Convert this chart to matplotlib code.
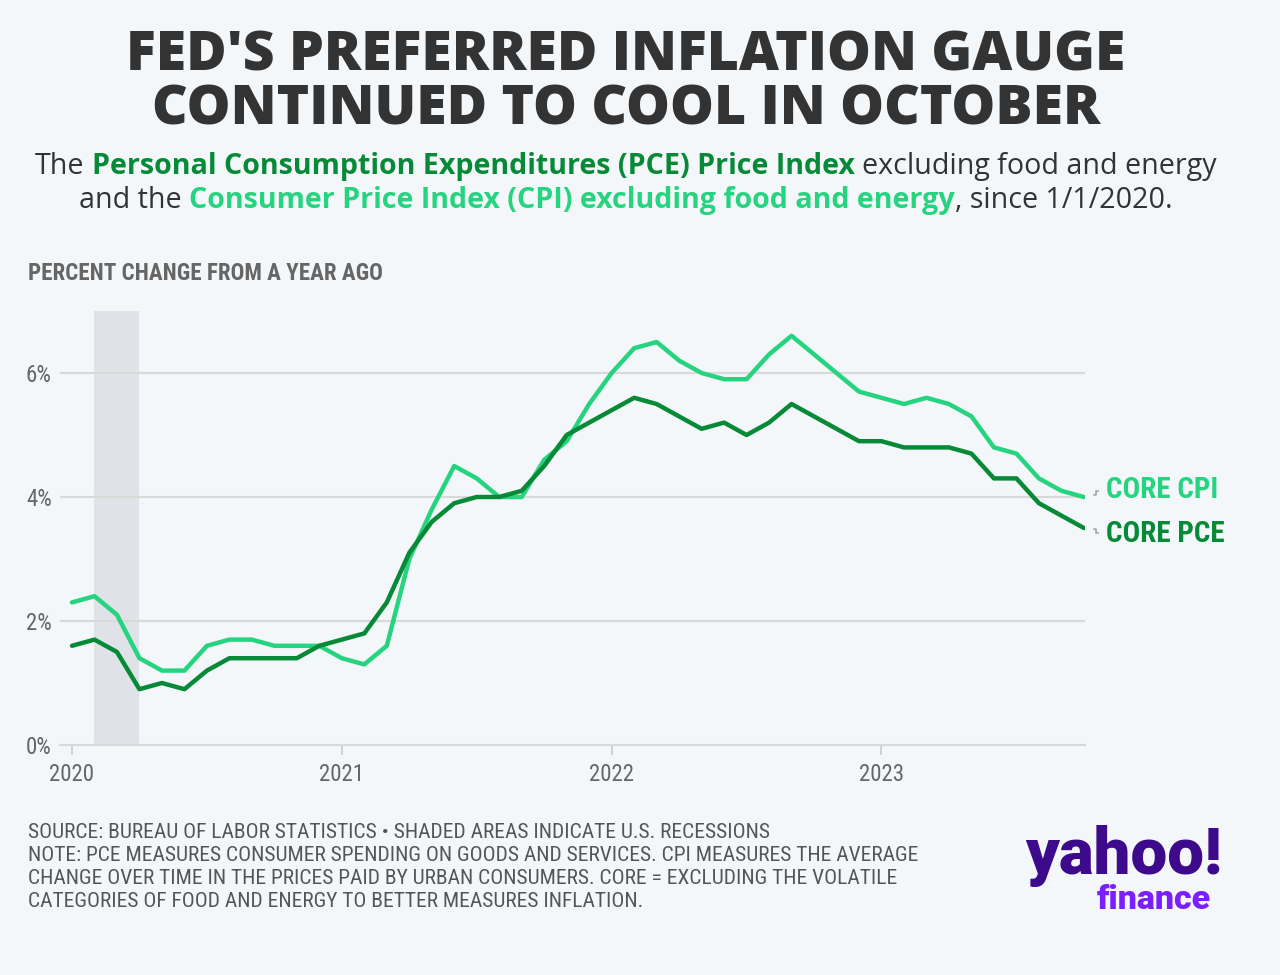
import matplotlib
matplotlib.use("Agg")
import matplotlib.pyplot as plt
import matplotlib.transforms as mtransforms
from matplotlib.lines import Line2D
from matplotlib import font_manager
import numpy as np

# monthly, Jan 2020 .. Oct 2023 (percent change from a year ago)
months = np.arange(46)
core_cpi = [2.3, 2.4, 2.1, 1.4, 1.2, 1.2, 1.6, 1.7, 1.7, 1.6, 1.6, 1.6,
            1.4, 1.3, 1.6, 3.0, 3.8, 4.5, 4.3, 4.0, 4.0, 4.6, 4.9, 5.5,
            6.0, 6.4, 6.5, 6.2, 6.0, 5.9, 5.9, 6.3, 6.6, 6.3, 6.0, 5.7,
            5.6, 5.5, 5.6, 5.5, 5.3, 4.8, 4.7, 4.3, 4.1, 4.0]
core_pce = [1.6, 1.7, 1.5, 0.9, 1.0, 0.9, 1.2, 1.4, 1.4, 1.4, 1.4, 1.6,
            1.7, 1.8, 2.3, 3.1, 3.6, 3.9, 4.0, 4.0, 4.1, 4.5, 5.0, 5.2,
            5.4, 5.6, 5.5, 5.3, 5.1, 5.2, 5.0, 5.2, 5.5, 5.3, 5.1, 4.9,
            4.9, 4.8, 4.8, 4.8, 4.7, 4.3, 4.3, 3.9, 3.7, 3.5]
year_ticks = [0, 12, 24, 36]
year_labels = ["2020", "2021", "2022", "2023"]
y_ticks = [0, 2, 4, 6]
recession = (1, 3)  # Feb 2020 - Apr 2020

BG = "#f4f7fa"
DARK = "#333333"
GREY = "#666666"
PCE_C = "#078a37"
CPI_C = "#26d47f"

installed = {f.name for f in font_manager.fontManager.ttflist}


def pick(names):
    for n in names:
        if n in installed:
            return n
    return "DejaVu Sans"


cond = pick(["Roboto Condensed", "Liberation Sans Narrow", "Open Sans Condensed", "Noto Sans"])
title_font = pick(["Open Sans", "Noto Sans"])
sub_font = pick(["Open Sans", "Noto Sans", "DejaVu Sans"])
logo_font = pick(["Roboto", "Lato", "Inter"])

W, H = 1280, 975
fig = plt.figure(figsize=(12.8, 9.75), dpi=100, facecolor=BG)
r = fig.canvas.get_renderer()


def width(t):
    return t.get_window_extent(r).width


def fit(t, target):
    t.set_fontsize(t.get_fontsize() * target / width(t))


# title
t1 = fig.text(626 / W, 1 - 56 / H, "FED'S PREFERRED INFLATION GAUGE", ha="center", va="center",
              family=title_font, fontweight="heavy", color=DARK, fontsize=40)
fit(t1, 998)
fig.text(626 / W, 1 - 110 / H, "CONTINUED TO COOL IN OCTOBER", ha="center", va="center",
         family=title_font, fontweight="heavy", color=DARK, fontsize=t1.get_fontsize())


def colored_line(y, parts, size):
    probe = [fig.text(0, 0, s, fontsize=size, family=sub_font) for s in ("n n", "nn")]
    space = width(probe[0]) - width(probe[1])
    for p in probe:
        p.remove()
    objs = []
    for s, color, weight in parts:
        gap = space if s.startswith(" ") else 0
        t = fig.text(0, 1 - y / H, s.strip(), color=color, fontsize=size, fontweight=weight,
                     family=sub_font, va="baseline")
        objs.append((t, gap))
    total = sum(width(t) + g for t, g in objs)
    x = 626 - total / 2
    for t, g in objs:
        x += g
        t.set_x(x / W)
        x += width(t)
    return total


sub_size = 19.5 * 1185 / 1120
colored_line(174, [("The", DARK, "normal"),
                   (" Personal Consumption Expenditures (PCE) Price Index", PCE_C, "bold"),
                   (" excluding food and energy", DARK, "normal")], sub_size)
colored_line(208, [("and the", DARK, "normal"),
                   (" Consumer Price Index (CPI) excluding food and energy", CPI_C, "bold"),
                   (", since 1/1/2020.", DARK, "normal")], sub_size)

t = fig.text(28 / W, 1 - 273 / H, "PERCENT CHANGE FROM A YEAR AGO", ha="left", va="center",
             family=cond, fontweight="bold", color=GREY, fontsize=16)
fit(t, 354)

# chart
ax = fig.add_axes([60 / W, 1 - 745 / H, (1085 - 60) / W, (745 - 311) / H])
ax.set_facecolor(BG)
ax.axvspan(recession[0], recession[1], color="#dfe3e7", zorder=0, lw=0)
for v in y_ticks[1:]:
    ax.axhline(v, color="#d9d9d9", lw=1.6, zorder=0.5)
ax.plot(months, core_cpi, color=CPI_C, lw=3.2, solid_joinstyle="round", solid_capstyle="round", zorder=3)
ax.plot(months, core_pce, color=PCE_C, lw=3.2, solid_joinstyle="round", solid_capstyle="round", zorder=4)

ax.set_xlim(-12 / 22.5, months[-1] + 0.05)
ax.set_ylim(0, 7)
for s in ("top", "right", "left"):
    ax.spines[s].set_visible(False)
ax.spines["bottom"].set_color("#d9d9d9")
ax.spines["bottom"].set_linewidth(1.6)
ax.set_yticks(y_ticks)
ax.set_yticklabels([f"{v}%" for v in y_ticks])
ax.set_xticks(year_ticks)
ax.set_xticklabels(year_labels)
ax.tick_params(axis="y", length=0, pad=6, labelsize=16.5, labelcolor=GREY)
ax.tick_params(axis="x", length=7, width=1.4, color="#d0d0d0", pad=6, labelsize=16.5, labelcolor=GREY)
for lab in ax.get_xticklabels() + ax.get_yticklabels():
    lab.set_family(cond)

# end labels with small step connectors
for series, name, color, dy in ((core_cpi, "CORE CPI", CPI_C, 5), (core_pce, "CORE PCE", PCE_C, -4)):
    lab = ax.annotate(name, xy=(months[-1], series[-1]), xytext=(16, dy), textcoords="offset points",
                      ha="left", va="center", family=cond, fontweight="bold", color=color,
                      fontsize=21, annotation_clip=False)
    px, py = ax.transData.transform((months[-1], series[-1]))
    s = 1 if dy > 0 else -1
    xs = np.array([7.0, 8.5, 8.5, 10.0]) / 72
    ys = (dy + s * np.array([-1.5, -1.5, 1.5, 1.5]) - s * 2) / 72
    ln = Line2D(xs, ys, color="#a0a0a0", lw=1.1,
                transform=fig.dpi_scale_trans + mtransforms.Affine2D().translate(px, py))
    ln.set_clip_on(False)
    fig.add_artist(ln)

# footer
foot = ["SOURCE: BUREAU OF LABOR STATISTICS \u2022 SHADED AREAS INDICATE U.S. RECESSIONS",
        "NOTE: PCE MEASURES CONSUMER SPENDING ON GOODS AND SERVICES. CPI MEASURES THE AVERAGE",
        "CHANGE OVER TIME IN THE PRICES PAID BY URBAN CONSUMERS. CORE = EXCLUDING THE VOLATILE",
        "CATEGORIES OF FOOD AND ENERGY TO BETTER MEASURES INFLATION."]
objs = [fig.text(28 / W, 1 - (832 + 23.3 * i) / H, s, ha="left", va="center", family=cond,
                 color="#555555", fontsize=13) for i, s in enumerate(foot)]
fs = objs[1].get_fontsize() * 887 / width(objs[1])
for o in objs:
    o.set_fontsize(fs)

# logo
y1 = fig.text(1025 / W, 1 - 856 / H, "yahoo!", ha="left", va="center", family=logo_font,
              fontweight="black", color="#3d0a8c", fontsize=40)
fit(y1, 197)
f1 = fig.text(1211 / W, 1 - 900 / H, "finance", ha="right", va="center", family=logo_font,
              fontweight="black", color="#7b1fff", fontsize=22)
fit(f1, 114)

fig.savefig("out.png", dpi=100, facecolor=BG)
